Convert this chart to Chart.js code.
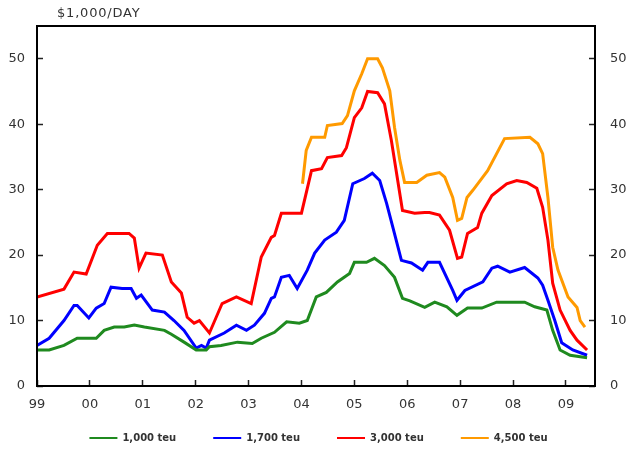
<!DOCTYPE html>
<html>
<head>
<meta charset="utf-8">
<script src="https://cdn.jsdelivr.net/npm/chart.js@4/dist/chart.umd.min.js"></script>
<style>
  html, body { margin: 0; padding: 0; background: #fff; }
  #wrap { width: 637px; height: 449px; }
</style>
</head>
<body>
<div id="wrap"><canvas id="c" width="637" height="449"></canvas></div>
<script>
// Time-charter rates for containerships, $1,000 per day, by ship size
const unitLabel = '$1,000/DAY';
const yearTicks = [1999, 2000, 2001, 2002, 2003, 2004, 2005, 2006, 2007, 2008, 2009];
const seriesNames = ['1,000 teu', '1,700 teu', '3,000 teu', '4,500 teu'];
const seriesColors = ['#1f8a1f', '#0000ff', '#ff0000', '#ff9a00'];

const teu1000Dates = [1999.0, 1999.23, 1999.51, 1999.76, 2000.12, 2000.27, 2000.46, 2000.65, 2000.84, 2001.03,
  2001.41, 2001.54, 2001.78, 2002.01, 2002.2, 2002.26, 2002.48, 2002.79, 2003.07, 2003.24, 2003.49, 2003.72,
  2003.96, 2004.11, 2004.28, 2004.47, 2004.68, 2004.91, 2005.0, 2005.23, 2005.38, 2005.57, 2005.76, 2005.91,
  2006.05, 2006.33, 2006.52, 2006.75, 2006.94, 2007.14, 2007.41, 2007.69, 2007.94, 2008.22, 2008.41, 2008.64,
  2008.75, 2008.89, 2009.08, 2009.4];
const teu1000Rates = [5.5, 5.5, 6.2, 7.3, 7.3, 8.5, 9.0, 9.0, 9.3, 9.0,
  8.5, 7.9, 6.7, 5.5, 5.5, 6.0, 6.2, 6.7, 6.5, 7.3, 8.2, 9.8,
  9.6, 10.0, 13.6, 14.3, 15.9, 17.2, 18.9, 18.9, 19.5, 18.4, 16.6, 13.4,
  13.0, 12.0, 12.8, 12.1, 10.8, 11.9, 11.9, 12.8, 12.8, 12.8, 12.1, 11.6,
  8.5, 5.5, 4.7, 4.3];

const teu1700Dates = [1999.0, 1999.23, 1999.51, 1999.7, 1999.76, 1999.98, 2000.12, 2000.27, 2000.4, 2000.61,
  2000.78, 2000.88, 2000.97, 2001.18, 2001.41, 2001.59, 2001.78, 2002.01, 2002.11, 2002.2, 2002.26, 2002.54,
  2002.77, 2002.96, 2003.11, 2003.3, 2003.43, 2003.49, 2003.62, 2003.77, 2003.92, 2004.11, 2004.25, 2004.44,
  2004.66, 2004.81, 2004.97, 2005.19, 2005.34, 2005.48, 2005.61, 2005.72, 2005.89, 2006.08, 2006.29, 2006.39,
  2006.61, 2006.86, 2006.94, 2007.09, 2007.43, 2007.6, 2007.71, 2007.94, 2008.22, 2008.47, 2008.56, 2008.66,
  2008.79, 2008.92, 2009.13, 2009.4];
const teu1700Rates = [6.2, 7.3, 10.0, 12.3, 12.3, 10.4, 11.9, 12.6, 15.1, 14.9,
  14.9, 13.4, 13.9, 11.6, 11.3, 10.0, 8.5, 5.8, 6.2, 5.8, 7.0, 8.1,
  9.3, 8.5, 9.3, 11.1, 13.4, 13.6, 16.6, 16.9, 14.9, 17.7, 20.3, 22.3,
  23.5, 25.3, 30.9, 31.7, 32.5, 31.4, 27.9, 24.5, 19.2, 18.8, 17.7, 18.9,
  18.9, 14.6, 13.1, 14.6, 15.9, 18.0, 18.3, 17.4, 18.1, 16.5, 15.4, 13.1,
  10.0, 6.6, 5.5, 4.7];

const teu3000Dates = [1999.0, 1999.51, 1999.7, 1999.93, 2000.14, 2000.33, 2000.74, 2000.84, 2000.93, 2001.06,
  2001.37, 2001.54, 2001.73, 2001.84, 2001.97, 2002.07, 2002.26, 2002.5, 2002.77, 2003.05, 2003.24, 2003.43,
  2003.49, 2003.62, 2004.0, 2004.19, 2004.38, 2004.49, 2004.76, 2004.85, 2005.0, 2005.14, 2005.25, 2005.44,
  2005.57, 2005.7, 2005.82, 2005.91, 2006.14, 2006.33, 2006.42, 2006.61, 2006.8, 2006.95, 2007.03, 2007.14,
  2007.33, 2007.41, 2007.6, 2007.88, 2008.07, 2008.26, 2008.45, 2008.56, 2008.66, 2008.75, 2008.89, 2009.08,
  2009.21, 2009.4];
const teu3000Rates = [13.6, 14.8, 17.4, 17.1, 21.5, 23.3, 23.3, 22.6, 18.0, 20.3,
  20.0, 15.9, 14.2, 10.5, 9.6, 10.0, 8.1, 12.6, 13.6, 12.6, 19.7, 22.7,
  23.0, 26.4, 26.4, 32.9, 33.2, 34.9, 35.2, 36.4, 41.0, 42.5, 45.0, 44.8,
  43.1, 37.5, 31.4, 26.8, 26.4, 26.5, 26.5, 26.1, 23.8, 19.5, 19.7, 23.3,
  24.2, 26.4, 29.1, 30.9, 31.4, 31.1, 30.2, 27.3, 22.3, 15.7, 11.6, 8.5,
  7.0, 5.5];

const teu4500Dates = [2004.02, 2004.09, 2004.19, 2004.44, 2004.49, 2004.77, 2004.87, 2005.0, 2005.14, 2005.25,
  2005.44, 2005.53, 2005.67, 2005.76, 2005.86, 2005.95, 2006.18, 2006.37, 2006.61, 2006.71, 2006.86, 2006.95,
  2007.03, 2007.13, 2007.24, 2007.52, 2007.84, 2008.32, 2008.47, 2008.56, 2008.66, 2008.75, 2008.85, 2009.04,
  2009.21, 2009.27, 2009.36];
const teu4500Rates = [30.9, 36.0, 38.0, 38.0, 39.8, 40.1, 41.3, 45.1, 47.7, 50.0,
  50.0, 48.6, 45.1, 39.5, 34.5, 31.1, 31.1, 32.2, 32.6, 31.9, 28.8, 25.3,
  25.6, 28.8, 29.9, 32.9, 37.8, 38.0, 37.0, 35.5, 28.8, 21.2, 17.7, 13.6,
  12.0, 10.0, 9.0];

const seriesDates = [teu1000Dates, teu1700Dates, teu3000Dates, teu4500Dates];
const seriesRates = [teu1000Rates, teu1700Rates, teu3000Rates, teu4500Rates];

const FONT = '"DejaVu Sans", Verdana, sans-serif';

const datasets = seriesNames.map((name, i) => ({
  label: name,
  data: seriesDates[i].map((d, k) => ({ x: d, y: seriesRates[i][k] })),
  borderColor: seriesColors[i],
  backgroundColor: seriesColors[i],
  borderWidth: 3,
  pointRadius: 0,
  tension: 0,
  fill: false
}));

// Frame around the plot and the unit caption above it
const framePlugin = {
  id: 'frame',
  afterDraw(chart) {
    const ctx = chart.ctx;
    const a = chart.chartArea;
    const L = Math.round(a.left), R = Math.round(a.right);
    const T = Math.round(a.top), B = Math.round(a.bottom);
    ctx.save();
    ctx.fillStyle = '#000000';
    ctx.fillRect(L - 1, T - 1, R - L + 2, 2);
    ctx.fillRect(L - 1, B - 1, R - L + 2, 2);
    ctx.fillRect(L - 1, T - 1, 2, B - T + 2);
    ctx.fillRect(R - 1, T - 1, 2, B - T + 2);

    ctx.fillStyle = '#333';
    ctx.font = '13px ' + FONT;
    if ('letterSpacing' in ctx) ctx.letterSpacing = '0.8px';
    ctx.textAlign = 'left';
    ctx.textBaseline = 'alphabetic';
    ctx.fillText(unitLabel, a.left + 20, a.top - 9);
    ctx.restore();
  }
};

// Tick marks point into the plot (negative tick length), no grid lines
const inwardTicks = {
  display: true,
  drawOnChartArea: false,
  drawTicks: true,
  tickLength: -6,
  tickWidth: 1.5,
  tickColor: '#222'
};

const keepTens = axis => { axis.ticks = axis.ticks.filter(t => t.value % 10 === 0); };
const fixedWidth = w => axis => {
  axis.width = w;
  axis.paddingTop = 0;
  axis.paddingBottom = 0;
};
const yAxisBase = {
  type: 'linear',
  min: 0,
  max: 55,
  grid: inwardTicks,
  border: { display: false },
  afterBuildTicks: keepTens,
  ticks: { stepSize: 10, color: '#333', font: { family: FONT, size: 13 } }
};

new Chart(document.getElementById('c'), {
  type: 'line',
  data: { datasets },
  plugins: [framePlugin],
  options: {
    responsive: false,
    animation: false,
    layout: { padding: { top: 26, bottom: 0, left: 0, right: 0 } },
    scales: {
      x: {
        type: 'linear',
        min: 1999,
        max: 2009.55,
        grid: inwardTicks,
        border: { display: false },
        afterBuildTicks: axis => { axis.ticks = yearTicks.map(v => ({ value: v })); },
        afterFit: axis => { axis.height = 10; axis.paddingLeft = 0; axis.paddingRight = 0; },
        ticks: {
          mirror: true,
          padding: -26,
          maxRotation: 0,
          autoSkip: false,
          color: '#333',
          font: { family: FONT, size: 13 },
          callback: v => String(v % 100).padStart(2, '0')
        }
      },
      y: Object.assign({}, yAxisBase, {
        position: 'left',
        afterFit: fixedWidth(37),
        ticks: Object.assign({}, yAxisBase.ticks, { padding: 18 })
      }),
      y2: Object.assign({}, yAxisBase, {
        position: 'right',
        afterFit: fixedWidth(42),
        ticks: Object.assign({}, yAxisBase.ticks, { padding: 21 })
      })
    },
    plugins: {
      tooltip: { enabled: false },
      legend: {
        position: 'bottom',
        maxHeight: 53,
        labels: {
          usePointStyle: true,
          pointStyle: 'line',
          pointStyleWidth: 28,
          padding: 37,
          color: '#333',
          font: { family: FONT, size: 10, weight: 'bold' },
          generateLabels: chart => Chart.defaults.plugins.legend.labels.generateLabels(chart)
            .map(item => Object.assign(item, { lineWidth: 2, pointStyle: 'line' }))
        }
      }
    }
  }
});
</script>
</body>
</html>
